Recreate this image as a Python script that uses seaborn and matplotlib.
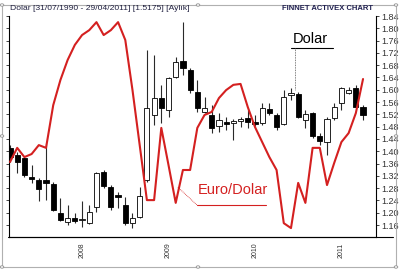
import matplotlib
matplotlib.use("Agg")
import matplotlib.pyplot as plt
import seaborn as sns
import numpy as np
import pandas as pd
from matplotlib.patches import Rectangle, Circle
from matplotlib.lines import Line2D

# Monthly candles, Mar 2007 .. Apr 2011
months = pd.date_range("2007-03-01", periods=50, freq="MS")
opens = [1.411, 1.388, 1.378, 1.316, 1.306, 1.306, 1.293, 1.199, 1.170, 1.183,
         1.176, 1.166, 1.219, 1.333, 1.284, 1.258, 1.225, 1.166, 1.186, 1.306,
         1.518, 1.573, 1.534, 1.642, 1.694, 1.664, 1.593, 1.528, 1.518, 1.482,
         1.495, 1.492, 1.498, 1.508, 1.495, 1.492, 1.537, 1.518, 1.489, 1.583,
         1.586, 1.502, 1.524, 1.450, 1.430, 1.508, 1.557, 1.590, 1.606, 1.544]
highs = [1.420, 1.398, 1.381, 1.355, 1.313, 1.427, 1.300, 1.248, 1.225, 1.199,
         1.238, 1.225, 1.333, 1.339, 1.290, 1.267, 1.251, 1.199, 1.284, 1.729,
         1.713, 1.616, 1.642, 1.707, 1.820, 1.671, 1.632, 1.576, 1.550, 1.524,
         1.511, 1.505, 1.511, 1.534, 1.518, 1.557, 1.557, 1.524, 1.599, 1.606,
         1.593, 1.534, 1.528, 1.459, 1.511, 1.557, 1.609, 1.609, 1.616, 1.550]
lows = [1.365, 1.329, 1.316, 1.297, 1.238, 1.241, 1.206, 1.173, 1.160, 1.166,
        1.154, 1.163, 1.202, 1.280, 1.209, 1.215, 1.160, 1.150, 1.183, 1.300,
        1.485, 1.492, 1.511, 1.638, 1.648, 1.590, 1.528, 1.524, 1.459, 1.463,
        1.469, 1.437, 1.479, 1.476, 1.482, 1.485, 1.518, 1.469, 1.485, 1.567,
        1.508, 1.476, 1.443, 1.420, 1.388, 1.502, 1.534, 1.586, 1.541, 1.502]
closes = [1.381, 1.365, 1.323, 1.310, 1.277, 1.297, 1.209, 1.176, 1.183, 1.173,
          1.180, 1.202, 1.329, 1.287, 1.219, 1.251, 1.166, 1.183, 1.254, 1.541,
          1.573, 1.541, 1.638, 1.690, 1.671, 1.599, 1.541, 1.541, 1.476, 1.502,
          1.489, 1.498, 1.505, 1.495, 1.489, 1.541, 1.524, 1.479, 1.576, 1.590,
          1.511, 1.521, 1.450, 1.433, 1.505, 1.544, 1.606, 1.599, 1.544, 1.5175]
# Euro/Dolar line, expressed on the chart's price scale as drawn
euro_dolar = [1.365, 1.411, 1.381, 1.391, 1.420, 1.411, 1.550, 1.632, 1.697, 1.746,
              1.778, 1.794, 1.820, 1.778, 1.794, 1.820, 1.762, 1.599, 1.420, 1.241,
              1.241, 1.476, 1.355, 1.232, 1.339, 1.339, 1.476, 1.518, 1.528, 1.573,
              1.599, 1.616, 1.619, 1.544, 1.479, 1.430, 1.381, 1.339, 1.166, 1.150,
              1.297, 1.232, 1.411, 1.411, 1.290, 1.362, 1.430, 1.459, 1.524, 1.635]
year_ticks = [10, 22, 34, 46]
year_labels = ["2008", "2009", "2010", "2011"]
price_ticks = [1.16, 1.20, 1.24, 1.28, 1.32, 1.36, 1.40, 1.44, 1.48, 1.52,
               1.56, 1.60, 1.64, 1.68, 1.72, 1.76, 1.80, 1.84]

sns.set_theme(style="white")
plt.rcParams['font.family'] = ['Liberation Sans', 'DejaVu Sans']

W, H = 400, 270
fig = plt.figure(figsize=(W / 100, H / 100), dpi=100)
fig.patch.set_facecolor("white")

ax = fig.add_axes([9 / W, 33 / H, 367 / W, 221 / H])
ax.set_facecolor("white")

df = pd.DataFrame({"month": months, "open": opens, "high": highs,
                   "low": lows, "close": closes, "eur": euro_dolar})
df["pos"] = np.arange(len(df))

# wicks
ax.vlines(df["pos"], df["low"], df["high"], color="#2a2a2a", lw=0.8, zorder=2)
# bodies
up = df["close"] >= df["open"]
body_bottom = np.minimum(df["open"], df["close"])
body_h = np.maximum(np.abs(df["close"] - df["open"]), 0.004)
ax.bar(df["pos"], body_h, bottom=body_bottom, width=0.72,
       color=np.where(up, "white", "black"), edgecolor="black", lw=0.6, zorder=3)

# Euro/Dolar line
sns.lineplot(data=df, x="pos", y="eur", color="#d42020", lw=1.5, ax=ax, zorder=4)

ax.set_xlim(-0.14, 50.8)
ax.set_ylim(1.121, 1.84)
ax.set_xlabel("")
ax.set_ylabel("")

ax.set_xticks(year_ticks)
ax.set_xticklabels(year_labels, rotation=90, fontsize=5, color="#333333")
ax.set_yticks(price_ticks)
ax.set_yticklabels([f"{v:.2f}" for v in price_ticks], fontsize=6.5, color="#333333")
ax.yaxis.set_ticks_position("both")
ax.tick_params(axis="y", which="both", left=True, right=True, labelleft=False,
               labelright=True, length=2, width=0.6, direction="out", pad=1.5)
ax.tick_params(axis="x", length=2, width=0.6, direction="out", pad=2)

for s in ["left", "right", "bottom"]:
    ax.spines[s].set_visible(True)
    ax.spines[s].set_color("black")
    ax.spines[s].set_linewidth(0.8)
ax.spines["top"].set_visible(False)

# annotations
ax.text(26.0, 1.262, "Euro/Dolar", fontsize=10.5, color="#d42020", zorder=5)
ax.plot([26.0, 35.6], [1.224, 1.224], color="#d42020", lw=0.8)
ax.plot([23.3, 26.0], [1.283, 1.224], color="#d42020", lw=0.6, ls=(0, (1, 1)))
ax.text(39.2, 1.753, "Dolar", fontsize=10.5, color="black", zorder=5)
ax.plot([39.0, 44.9], [1.735, 1.735], color="black", lw=0.8)
ax.plot([39.5, 39.5], [1.735, 1.600], color="#555555", lw=0.6, ls=(0, (1, 1)))

# outer frame and title row (figure pixel coords)
def px(x, y):
    return (x / W, 1 - y / H)

fig.add_artist(Rectangle(px(2, 267), 394 / W, 262 / H, fill=False,
                         edgecolor="#b0b0b0", lw=0.8, transform=fig.transFigure))
fig.add_artist(Line2D([8 / W, 393 / W], [1 - 237 / H, 1 - 237 / H], color="black",
                      lw=0.8, transform=fig.transFigure))
for hx in (2, 198, 396):
    for hy in (5, 136, 267):
        if hx == 198 and hy == 136:
            continue
        fig.add_artist(Circle(px(hx, hy), 1.8 / W, facecolor="white",
                              edgecolor="#909090", lw=0.6, transform=fig.transFigure))

fig.text(10 / W, 1 - 9 / H, "Dolar [31/07/1990 - 29/04/2011] [1.5175] [Aylık]",
         fontsize=6.1, color="#202040", va="center", ha="left")
fig.text(373 / W, 1 - 9 / H, "FINNET ACTIVEX CHART", fontsize=5.5,
         fontweight="bold", color="#202050", va="center", ha="right")

fig.savefig("out.png", dpi=100, facecolor="white")
